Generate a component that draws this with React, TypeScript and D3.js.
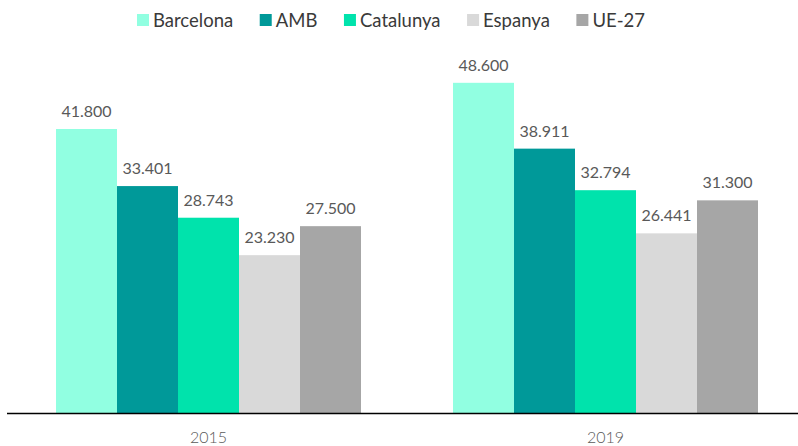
import React, { useEffect, useRef } from "react";
import * as d3 from "d3";

const categories = ["2015", "2019"];
const seriesNames = ["Barcelona", "AMB", "Catalunya", "Espanya", "UE-27"];
const seriesColors = ["#91FFE1", "#009999", "#00E3AC", "#D9D9D9", "#A6A6A6"];
const values2015 = [41.8, 33.401, 28.743, 23.23, 27.5];
const values2019 = [48.6, 38.911, 32.794, 26.441, 31.3];
const valueLabels2015 = ["41.800", "33.401", "28.743", "23.230", "27.500"];
const valueLabels2019 = ["48.600", "38.911", "32.794", "26.441", "31.300"];

const W = 798;
const H = 446;
const FONT = "Lato, 'Open Sans', sans-serif";

export default function App() {
  const ref = useRef<SVGSVGElement>(null);
  useEffect(() => {
    const svg = d3.select(ref.current);
    svg.selectAll("*").remove();
    const values = [values2015, values2019];
    const labels = [valueLabels2015, valueLabels2019];

    const baseY = 413;
    const y = d3.scaleLinear().domain([0, 60]).range([baseY, baseY - 60 * 6.794]);
    const x0 = d3.scaleBand().domain(categories).range([10, 804]).paddingInner(0).paddingOuter(0);
    const x1 = d3
      .scaleBand()
      .domain(seriesNames)
      .range([46, x0.bandwidth() - 46])
      .paddingOuter(0)
      .paddingInner(0);

    const g = svg.append("g");
    categories.forEach((cat, ci) => {
      const gg = g.append("g").attr("transform", `translate(${x0(cat)},0)`);
      seriesNames.forEach((s, si) => {
        const v = values[ci][si];
        gg.append("rect")
          .attr("x", x1(s)!)
          .attr("width", x1.bandwidth())
          .attr("y", y(v))
          .attr("height", baseY - y(v))
          .attr("fill", seriesColors[si]);
        gg.append("text")
          .attr("x", x1(s)! + x1.bandwidth() / 2)
          .attr("y", y(v) - 12)
          .attr("text-anchor", "middle")
          .attr("font-family", FONT)
          .attr("font-size", 16)
          .attr("fill", "#595959")
          .text(labels[ci][si]);
      });
      svg.append("text")
        .attr("x", x0(cat)! + x0.bandwidth() / 2)
        .attr("y", 443)
        .attr("text-anchor", "middle")
        .attr("font-family", FONT)
        .attr("font-size", 16)
        .attr("font-weight", 300)
        .attr("fill", "#595959")
        .text(cat);
    });

    svg.append("line")
      .attr("x1", 7)
      .attr("x2", W)
      .attr("y1", baseY + 0.5)
      .attr("y2", baseY + 0.5)
      .attr("stroke", "#000")
      .attr("stroke-width", 1.6);

    // legend
    const lg = svg.append("g");
    const widths: number[] = [];
    const nodes: any[] = [];
    seriesNames.forEach((s, si) => {
      const it = lg.append("g");
      it.append("rect")
        .attr("x", 0)
        .attr("y", 14)
        .attr("width", 12)
        .attr("height", 12)
        .attr("fill", seriesColors[si]);
      const t = it.append("text")
        .attr("x", 16)
        .attr("y", 27)
        .attr("font-family", FONT)
        .attr("font-size", 18.5)
        .attr("fill", "#3a3a3a")
        .text(s);
      widths.push((t.node() as SVGTextElement).getComputedTextLength());
      nodes.push(it);
    });
    const left = 137;
    const right = 645;
    const sumItems = d3.sum(widths.map((w) => 16 + w));
    const gap = (right - left - sumItems) / (seriesNames.length - 1);
    let cx = left;
    nodes.forEach((it, i) => {
      it.attr("transform", `translate(${cx},0)`);
      cx += 16 + widths[i] + gap;
    });
  }, []);
  return (
    <svg
      ref={ref}
      width={W}
      height={H}
      style={{ display: "block", position: "absolute", left: 0, top: 0, background: "#fff" }}
    />
  );
}
